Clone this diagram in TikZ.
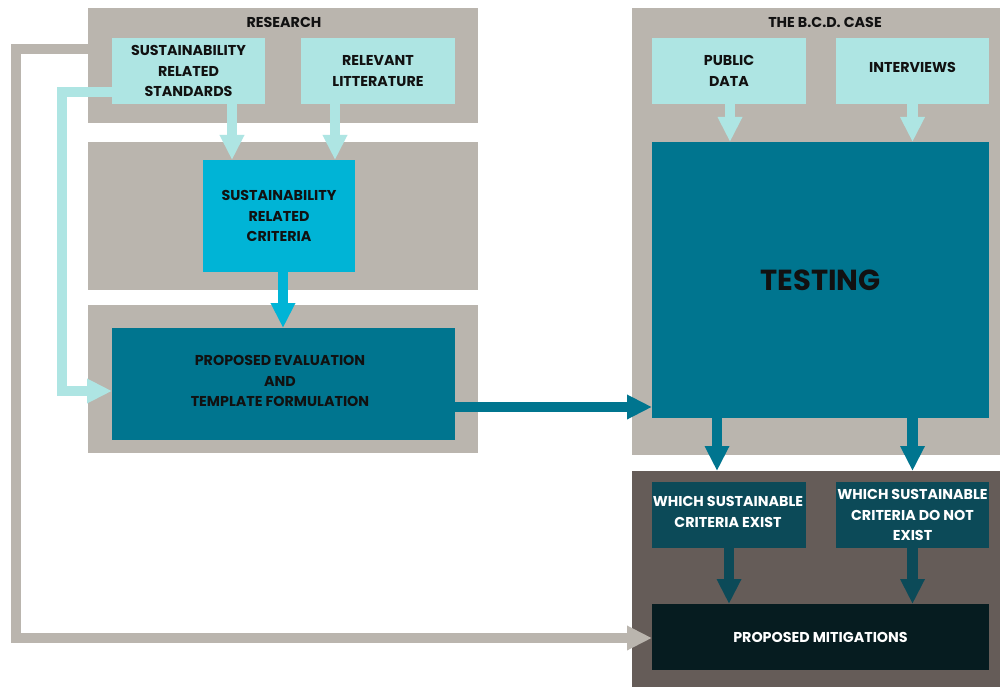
\documentclass[tikz,border=0pt]{standalone}
\usepackage{fontspec}
\setmainfont{Poppins}
\usetikzlibrary{arrows.meta}
\definecolor{panelgray}{HTML}{BAB5AE}
\definecolor{lightcyan}{HTML}{AEE5E3}
\definecolor{brightcyan}{HTML}{00B4D6}
\definecolor{tealbox}{HTML}{00758F}
\definecolor{darkpanel}{HTML}{655C58}
\definecolor{darkteal}{HTML}{0C4A58}
\definecolor{blackteal}{HTML}{061C20}
\definecolor{txt}{HTML}{111111}
\newcommand{\boxfont}{\fontsize{14.3}{20.5}\selectfont\bfseries}
\tikzset{
  panel/.style={fill=#1, inner sep=0pt, outer sep=0pt},
  box/.style={fill=#1, inner sep=0pt, outer sep=0pt, align=center, font=\boxfont, text=txt},
  arr/.style={draw=#1, line width=10.5pt, -{Triangle[width=23pt,length=25pt]}},
}
\begin{document}
\begin{tikzpicture}[x=1pt,y=-1pt]
\path[use as bounding box] (0,0) rectangle (1000,687);
\fill[white] (0,0) rectangle (1000,687);
% panels
\node[panel=panelgray, minimum width=390pt, minimum height=115pt] (research) at (283,65.5) {};
\node[panel=panelgray, minimum width=390pt, minimum height=148pt] (midpanel) at (283,216) {};
\node[panel=panelgray, minimum width=390pt, minimum height=148pt] (lowpanel) at (283,379) {};
\node[panel=panelgray, minimum width=368pt, minimum height=447pt] (bcd) at (816,231.5) {};
\node[panel=darkpanel, minimum width=368pt, minimum height=216pt] (results) at (816,579) {};
\node[font=\boxfont, text=txt] (researchtitle) at (284,22) {RESEARCH};
\node[font=\boxfont, text=txt] (bcdtitle) at (825,22) {THE B.C.D. CASE};
% boxes
\node[box=lightcyan, minimum width=153pt, minimum height=66pt] (standards) at (188.5,71) {SUSTAINABILITY\\RELATED\\STANDARDS};
\node[box=lightcyan, minimum width=154pt, minimum height=66pt] (litt) at (378,71) {RELEVANT\\LITTERATURE};
\node[box=brightcyan, minimum width=152pt, minimum height=112pt] (criteria) at (279,216) {SUSTAINABILITY\\RELATED\\CRITERIA};
\node[box=tealbox, minimum width=343pt, minimum height=112pt] (proposed) at (283.5,384) {};
\node[font=\boxfont, text=txt, align=center] (proposedtext) at (280,381) {PROPOSED EVALUATION\\AND\\TEMPLATE FORMULATION};
\node[box=lightcyan, minimum width=154pt, minimum height=66pt] (public) at (729,71) {PUBLIC\\DATA};
\node[box=lightcyan, minimum width=153pt, minimum height=66pt] (interviews) at (912.5,71) {};
\node[font=\boxfont, text=txt] (interviewstext) at (912.5,67) {INTERVIEWS};
\node[box=tealbox, minimum width=337pt, minimum height=276pt, font=\fontsize{29}{31}\selectfont\bfseries] (testing) at (820.5,280) {TESTING};
\node[box=darkteal, minimum width=154pt, minimum height=66pt, text=white] (exist) at (729,515) {};
\node[font=\boxfont, text=white, align=center] (existtext) at (728,512) {WHICH SUSTAINABLE\\CRITERIA EXIST};
\node[box=darkteal, minimum width=153pt, minimum height=66pt, text=white] (notexist) at (912.5,515) {WHICH SUSTAINABLE\\CRITERIA DO NOT\\EXIST};
\node[box=blackteal, minimum width=337pt, minimum height=66pt, text=white] (mitig) at (820.5,637) {PROPOSED MITIGATIONS};
% helper coordinates
\coordinate (xa) at (232,0);
\coordinate (xb) at (335,0);
\coordinate (xc) at (283,0);
\coordinate (xd) at (730,0);
\coordinate (xe) at (912.5,0);
\coordinate (xf) at (717,0);
\coordinate (xg) at (729,0);
\coordinate (ya) at (0,407);
\coordinate (cyanstart) at (112,92);
\coordinate (cyancorner1) at (62,92);
\coordinate (cyancorner2) at (62,391);
\coordinate (cyanend) at (0,391);
\coordinate (graystart) at (88,49);
\coordinate (graycorner1) at (16,49);
\coordinate (graycorner2) at (16,638);
\coordinate (grayend) at (0,638);
% arrows
\draw[arr=lightcyan] (standards.south -| xa) -- (criteria.north -| xa);
\draw[arr=lightcyan] (litt.south -| xb) -- (criteria.north -| xb);
\draw[arr=brightcyan] (criteria.south -| xc) -- (proposed.north -| xc);
\draw[arr=lightcyan] (cyanstart) -- (cyancorner1) -- (cyancorner2) -- (proposed.west |- cyanend);
\draw[arr=panelgray] (graystart) -- (graycorner1) -- (graycorner2) -- (mitig.west |- grayend);
\draw[arr=tealbox] (proposed.east |- ya) -- (testing.west |- ya);
\draw[arr=lightcyan] (public.south -| xd) -- (testing.north -| xd);
\draw[arr=lightcyan] (interviews.south -| xe) -- (testing.north -| xe);
\draw[arr=tealbox] (testing.south -| xf) -- (results.north -| xf);
\draw[arr=tealbox] (testing.south -| xe) -- (results.north -| xe);
\draw[arr=darkteal] (exist.south -| xg) -- (mitig.north -| xg);
\draw[arr=darkteal] (notexist.south -| xe) -- (mitig.north -| xe);
\end{tikzpicture}
\end{document}
